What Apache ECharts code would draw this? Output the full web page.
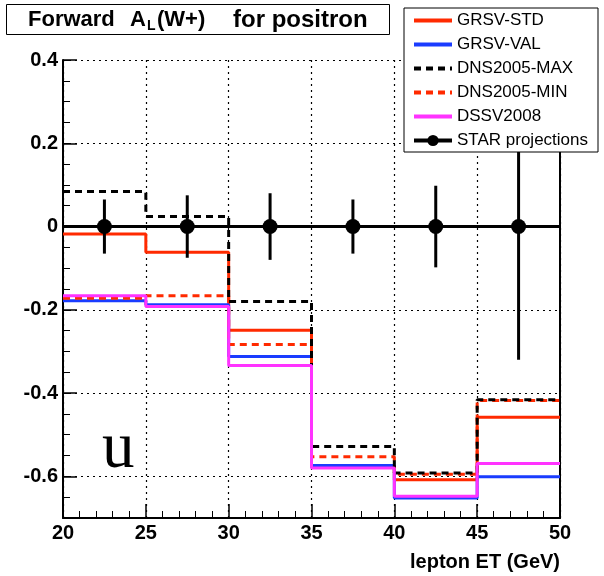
<!DOCTYPE html>
<html>
<head>
<meta charset="utf-8">
<script src="https://cdn.jsdelivr.net/npm/echarts@6/dist/echarts.min.js"></script>
<style>
  html, body { margin: 0; padding: 0; background: #fff; }
  #chart { width: 604px; height: 576px; }
</style>
</head>
<body>
<div id="chart"></div>
<script>
// bin edges (lepton ET, GeV) and the per-bin asymmetry of each model
const edges = [20, 25, 30, 35, 40, 45, 50];
const grsvStd = [-0.018, -0.062, -0.249, -0.577, -0.608, -0.458];
const grsvVal = [-0.178, -0.188, -0.312, -0.574, -0.652, -0.601];
const dnsMax = [0.084, 0.024, -0.180, -0.528, -0.592, -0.416];
const dnsMin = [-0.172, -0.166, -0.283, -0.553, -0.595, -0.418];
const dssv = [-0.166, -0.192, -0.334, -0.580, -0.648, -0.569];
// STAR projected points
const starX = [22.5, 27.5, 32.5, 37.5, 42.5, 47.5];
const starY = [0, 0, 0, 0, 0, 0];
const starErr = [0.065, 0.075, 0.08, 0.065, 0.098, 0.32];
// y tick labels
const yLabels = [-0.6, -0.4, -0.2, 0, 0.2, 0.4];

const FONT = '"Liberation Sans", Arial, Helvetica, sans-serif';

// histogram as a step line: one point per left edge + closing point at last edge
function hist(vals) {
    return edges.map((e, i) => [e, vals[Math.min(i, vals.length - 1)]]);
}

function stepSeries(name, vals, color, dashed) {
    return {
        name: name,
        type: 'line',
        step: 'end',
        symbol: 'none',
        data: hist(vals),
        lineStyle: { color: color, width: 3, type: dashed ? [7, 5] : 'solid' },
        itemStyle: { color: color },
        emphasis: { disabled: true }
    };
}

// legend entry without the marker (line only)
function lineOnly(name) {
    return { name: name, itemStyle: { color: 'rgba(0,0,0,0)', borderWidth: 0, opacity: 0 } };
}

let mychart = echarts.init(document.getElementById('chart'));
let option = {
    animation: false,
    title: {
        text: '{a|Forward}{b|A}{s|L}{c|(W+)}{d|for positron}',
        left: 6,
        top: 4,
        padding: [3, 22, 2, 22],
        borderColor: '#000',
        borderWidth: 1,
        backgroundColor: '#fff',
        textStyle: {
            rich: {
                a: { fontFamily: FONT, fontSize: 22, fontWeight: 'bold', color: '#000', lineHeight: 26, width: 102 },
                b: { fontFamily: FONT, fontSize: 22, fontWeight: 'bold', color: '#000', lineHeight: 26, width: 17 },
                s: { fontFamily: FONT, fontSize: 14, fontWeight: 'bold', color: '#000', lineHeight: 26, width: 10, padding: [12, 0, 0, 0] },
                c: { fontFamily: FONT, fontSize: 22, fontWeight: 'bold', color: '#000', lineHeight: 26, width: 76 },
                d: { fontFamily: FONT, fontSize: 24, fontWeight: 'bold', color: '#000', lineHeight: 26 }
            }
        }
    },
    legend: {
        left: 404,
        top: 8,
        orient: 'vertical',
        backgroundColor: '#fff',
        borderColor: '#000',
        borderWidth: 1,
        borderRadius: 0,
        padding: [4, 10, 3, 8],
        itemWidth: 38,
        itemHeight: 14,
        itemGap: 7,
        textStyle: { fontFamily: FONT, fontSize: 17, color: '#000' },
        lineStyle: { width: 4 },
        data: [
            lineOnly('GRSV-STD'),
            lineOnly('GRSV-VAL'),
            lineOnly('DNS2005-MAX'),
            lineOnly('DNS2005-MIN'),
            lineOnly('DSSV2008'),
            'STAR projections'
        ],
        z: 10
    },
    grid: { left: 63, right: 44, top: 60, bottom: 58 },
    xAxis: {
        type: 'value',
        min: 20,
        max: 50,
        interval: 5,
        name: 'lepton ET (GeV)',
        nameLocation: 'end',
        nameGap: 0,
        nameTextStyle: {
            fontFamily: FONT, fontSize: 20, fontWeight: 'bold', color: '#000',
            align: 'right', verticalAlign: 'top', padding: [34, 0, 0, 0]
        },
        axisLine: { onZero: false, lineStyle: { color: '#000', width: 2 } },
        axisTick: { inside: true, length: 14, lineStyle: { color: '#000', width: 1.5 } },
        minorTick: { show: true, splitNumber: 5, length: 7, lineStyle: { color: '#000', width: 1 } },
        axisLabel: { fontFamily: FONT, fontSize: 20, fontWeight: 'bold', color: '#000', margin: 5 },
        splitLine: { show: true, lineStyle: { color: '#000', width: 1.2, type: [2, 4] } }
    },
    yAxis: [
        {
            // fine ticks every 0.05
            type: 'value',
            min: -0.7,
            max: 0.4,
            interval: 0.05,
            position: 'left',
            axisLine: { show: true, lineStyle: { color: '#000', width: 2 } },
            axisTick: { show: true, inside: true, length: 7, lineStyle: { color: '#000', width: 1 } },
            axisLabel: { show: false },
            splitLine: { show: false }
        },
        {
            // labelled ticks and grid
            type: 'value',
            min: -0.7,
            max: 0.4,
            position: 'left',
            axisLine: { show: false },
            axisTick: { show: true, inside: true, length: 14, customValues: yLabels, lineStyle: { color: '#000', width: 1.5 } },
            axisLabel: {
                customValues: yLabels,
                fontFamily: FONT, fontSize: 20, fontWeight: 'bold', color: '#000', margin: 5,
                formatter: v => String(Math.round(v * 10) / 10)
            },
            splitLine: { show: true, lineStyle: { color: '#000', width: 1.2, type: [2, 4] } }
        },
        {
            // right frame
            type: 'value',
            min: -0.7,
            max: 0.4,
            position: 'right',
            axisLine: { show: true, lineStyle: { color: '#000', width: 2 } },
            axisTick: { show: false },
            axisLabel: { show: false },
            splitLine: { show: false }
        }
    ],
    graphic: [
        {
            type: 'text',
            left: 102,
            top: 417,
            style: { text: 'u', font: '65px "Liberation Serif", "Times New Roman", serif', fill: '#000' }
        }
    ],
    series: [
        stepSeries('GRSV-STD', grsvStd, '#ff2a00', false),
        stepSeries('GRSV-VAL', grsvVal, '#1a3cff', false),
        stepSeries('DNS2005-MIN', dnsMin, '#ff2a00', true),
        stepSeries('DNS2005-MAX', dnsMax, '#000', true),
        stepSeries('DSSV2008', dssv, '#ff33ff', false),
        {
            name: 'STAR errors',
            type: 'custom',
            data: starX.map((x, i) => [x, starY[i], starErr[i]]),
            renderItem: (params, api) => {
                let x = api.value(0), y = api.value(1), e = api.value(2);
                let p1 = api.coord([x, y + e]);
                let p2 = api.coord([x, y - e]);
                return {
                    type: 'line',
                    shape: { x1: p1[0], y1: p1[1], x2: p2[0], y2: p2[1] },
                    style: { stroke: '#000', lineWidth: 3 }
                };
            },
            z: 5,
            silent: true
        },
        {
            name: 'STAR projections',
            type: 'line',
            data: starX.map((x, i) => [x, starY[i]]),
            symbol: 'circle',
            symbolSize: 15,
            itemStyle: { color: '#000' },
            lineStyle: { color: '#000', width: 3 },
            markLine: {
                silent: true,
                symbol: 'none',
                label: { show: false },
                lineStyle: { color: '#000', width: 3, type: 'solid' },
                data: [{ yAxis: 0 }]
            },
            emphasis: { disabled: true },
            z: 6
        }
    ]
};
mychart.setOption(option);
window.addEventListener('resize', () => {
    mychart.resize();
});
</script>
</body>
</html>
